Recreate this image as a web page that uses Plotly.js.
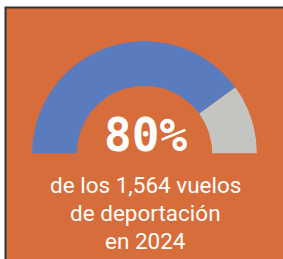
<!DOCTYPE html>
<html><head><meta charset="utf-8">
<script src="https://cdn.plot.ly/plotly-3.0.1.min.js"></script>
<style>html,body{margin:0;padding:0;background:#fff}#c{width:283px;height:259px}</style>
</head><body><div id="c"></div>
<script>
const categories = ["Deportación", "Resto"];
const shares = [80, 20];
const colors = ["#5B7BBF", "#C4C4C0"];
const headline = "80%";
const subtitleLines = ["de los 1,564 vuelos", "de deportación", "en 2024"];

// convert shares of a half circle into bar centers/widths (degrees)
const total = shares.reduce((a, b) => a + b, 0);
let start = 180;
const thetas = [], widths = [];
shares.forEach(v => {
  const w = v / total * 180;
  thetas.push(start - w / 2);
  widths.push(w);
  start -= w;
});

const W = 283, H = 259;
const px = x => x / W, py = y => 1 - y / H;

const trace = {
  type: "barpolar",
  r: shares.map(() => 1),
  theta: thetas,
  width: widths,
  text: categories,
  marker: {color: colors, line: {width: 0}},
  hoverinfo: "skip"
};

const annotations = [
  {text: headline, x: px(145), y: py(135), xref: "paper", yref: "paper", showarrow: false,
   xanchor: "center", yanchor: "middle",
   font: {family: "DejaVu Sans Mono", size: 46, color: "#ffffff", weight: "bold"}}
];
const lineY = [185, 213, 241];
subtitleLines.forEach((t, i) => annotations.push({
  text: t, x: px(145), y: py(lineY[i]), xref: "paper", yref: "paper", showarrow: false,
  xanchor: "center", yanchor: "middle",
  font: {family: "Roboto", size: 22.5, color: "#ffffff"}
}));

const layout = {
  width: W, height: H,
  margin: {l: 0, r: 0, t: 0, b: 0},
  paper_bgcolor: "#ffffff",
  showlegend: false,
  shapes: [{type: "rect", xref: "paper", yref: "paper", layer: "below",
            x0: px(5.5), x1: 1.1, y0: -0.1, y1: py(7.5),
            fillcolor: "#D66D3A", line: {color: "#333333", width: 2}}],
  polar: {
    domain: {x: [px(32), px(257)], y: [py(153.5), py(41)]},
    sector: [0, 180],
    hole: 0.6,
    bgcolor: "rgba(0,0,0,0)",
    radialaxis: {range: [0, 1], visible: false, showgrid: false, showline: false, ticks: ""},
    angularaxis: {visible: false, showgrid: false, showline: false, ticks: "", direction: "counterclockwise", rotation: 0}
  },
  annotations: annotations
};

Plotly.newPlot("c", [trace], layout, {staticPlot: true, displayModeBar: false});
</script></body></html>
